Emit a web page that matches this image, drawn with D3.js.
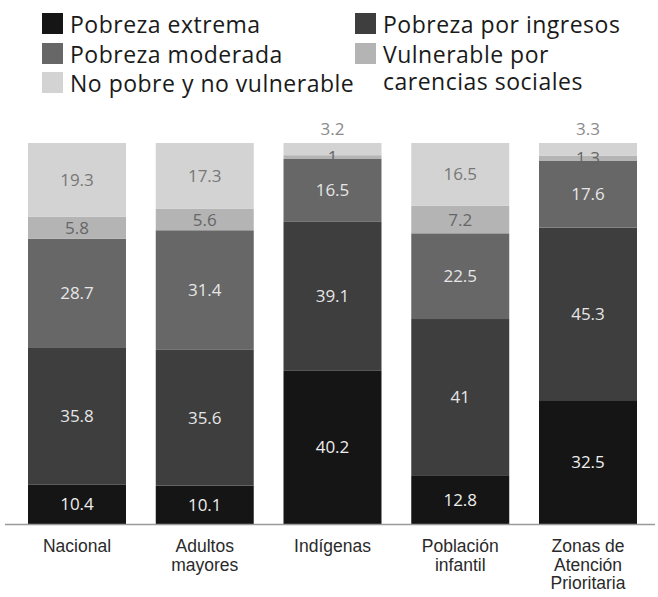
<!DOCTYPE html>
<html>
<head>
<meta charset="utf-8">
<script src="https://cdn.jsdelivr.net/npm/d3@7"></script>
<style>
  body { margin: 0; background: #fff; }
  svg { display: block; font-family: "Open Sans", sans-serif; }
</style>
</head>
<body>
<div id="chart"></div>
<script>
// Categories and their axis labels (split on lines)
const categories = ["Nacional", "Adultos mayores", "Indígenas", "Población infantil", "Zonas de Atención Prioritaria"];
const tickLabels = [["Nacional"], ["Adultos", "mayores"], ["Indígenas"], ["Población", "infantil"], ["Zonas de", "Atención", "Prioritaria"]];

// Series values (percent), bottom to top of each bar
const pobrezaExtrema = [10.4, 10.1, 40.2, 12.8, 32.5];
const pobrezaIngresos = [35.8, 35.6, 39.1, 41, 45.3];
const pobrezaModerada = [28.7, 31.4, 16.5, 22.5, 17.6];
const vulnerableCarencias = [5.8, 5.6, 1, 7.2, 1.3];
const noPobre = [19.3, 17.3, 3.2, 16.5, 3.3];

const seriesKeys = ["extrema", "ingresos", "moderada", "vulnerable", "nopobre"];
const seriesNames = ["Pobreza extrema", "Pobreza por ingresos", "Pobreza moderada", "Vulnerable por carencias sociales", "No pobre y no vulnerable"];
const seriesValues = [pobrezaExtrema, pobrezaIngresos, pobrezaModerada, vulnerableCarencias, noPobre];

// Grey scheme
const fills = ["#151515", "#3e3e3e", "#676767", "#b4b4b4", "#d3d3d3"];
const labelFills = ["#eeeeee", "#e6e6e6", "#e6e6e6", "#666666", "#777777"];

const WIDTH = 658;
const HEIGHT = 597;

const rows = categories.map((c, i) => {
  const r = { category: c };
  seriesKeys.forEach((k, j) => (r[k] = seriesValues[j][i]));
  return r;
});

const svg = d3
  .select("#chart")
  .append("svg")
  .attr("width", WIDTH)
  .attr("height", HEIGHT);

// Scales
const xScale = d3
  .scaleBand()
  .domain(categories)
  .range([28, 637])
  .paddingInner(0.233)
  .paddingOuter(0);

const yScale = d3.scaleLinear().domain([0, 100]).range([524, 143]);

const stacked = d3.stack().keys(seriesKeys)(rows);

// Bars
const layers = svg
  .selectAll("g.layer")
  .data(stacked)
  .enter()
  .append("g")
  .attr("class", "layer")
  .attr("fill", (d, i) => fills[i]);

layers
  .selectAll("rect")
  .data((d) => d)
  .enter()
  .append("rect")
  .attr("x", (d) => xScale(d.data.category))
  .attr("y", (d) => yScale(d[1]))
  .attr("width", xScale.bandwidth())
  .attr("height", (d) => yScale(d[0]) - yScale(d[1]));

// Value labels: tiny top segments go above the bar
stacked.forEach((layer, i) => {
  svg
    .append("g")
    .selectAll("text")
    .data(layer)
    .enter()
    .append("text")
    .attr("x", (d) => xScale(d.data.category) + xScale.bandwidth() / 2)
    .attr("y", (d) => {
      const v = d[1] - d[0];
      if (i === stacked.length - 1 && v < 4) return yScale(d[1]) - 8;
      return (yScale(d[0]) + yScale(d[1])) / 2 + 6;
    })
    .attr("text-anchor", "middle")
    .attr("font-size", "17px")
    .attr("fill", (d) => {
      const v = d[1] - d[0];
      if (i === stacked.length - 1 && v < 4) return "#8a8a8a";
      return labelFills[i];
    })
    .text((d) => d3.format("~g")(+(d[1] - d[0]).toFixed(1)));
});

// Baseline
svg
  .append("line")
  .attr("x1", 5)
  .attr("x2", 655)
  .attr("y1", yScale(0) + 0.5)
  .attr("y2", yScale(0) + 0.5)
  .attr("stroke", "#9a9a9a")
  .attr("stroke-width", 1.5);

// Category axis, labels split into lines
const xAxis = svg
  .append("g")
  .attr("transform", `translate(0, ${yScale(0)})`)
  .call(d3.axisBottom(xScale).tickSize(0).tickFormat(""));
xAxis.select(".domain").remove();

xAxis
  .selectAll(".tick")
  .append("text")
  .attr("fill", "#2a2a2a")
  .attr("font-size", "17.5px")
  .attr("text-anchor", "middle")
  .attr("y", 28)
  .each(function (d, i) {
    const t = d3.select(this);
    tickLabels[i].forEach((line, k) => {
      t.append("tspan").attr("x", 0).attr("dy", k === 0 ? 0 : 18.5).text(line);
    });
  });

// Legend
const legendItems = [
  { s: 0, x: 42, y: 13, lines: ["Pobreza extrema"] },
  { s: 2, x: 42, y: 43, lines: ["Pobreza moderada"] },
  { s: 4, x: 42, y: 72, lines: ["No pobre y no vulnerable"] },
  { s: 1, x: 355, y: 13, lines: ["Pobreza por ingresos"] },
  { s: 3, x: 355, y: 43, lines: ["Vulnerable por", "carencias sociales"] }
];

const legend = svg.append("g").attr("class", "legend");
legendItems.forEach((item) => {
  const g = legend.append("g").attr("transform", `translate(${item.x}, ${item.y})`);
  g.append("rect").attr("width", 21).attr("height", 21).attr("fill", fills[item.s]);
  const t = g
    .append("text")
    .attr("x", 28)
    .attr("y", 20)
    .attr("font-size", "23px")
    .attr("letter-spacing", "0.5px")
    .attr("fill", "#1a1a1a");
  item.lines.forEach((line, k) => {
    t.append("tspan").attr("x", 28).attr("dy", k === 0 ? 0 : 27).text(line);
  });
});
</script>
</body>
</html>
